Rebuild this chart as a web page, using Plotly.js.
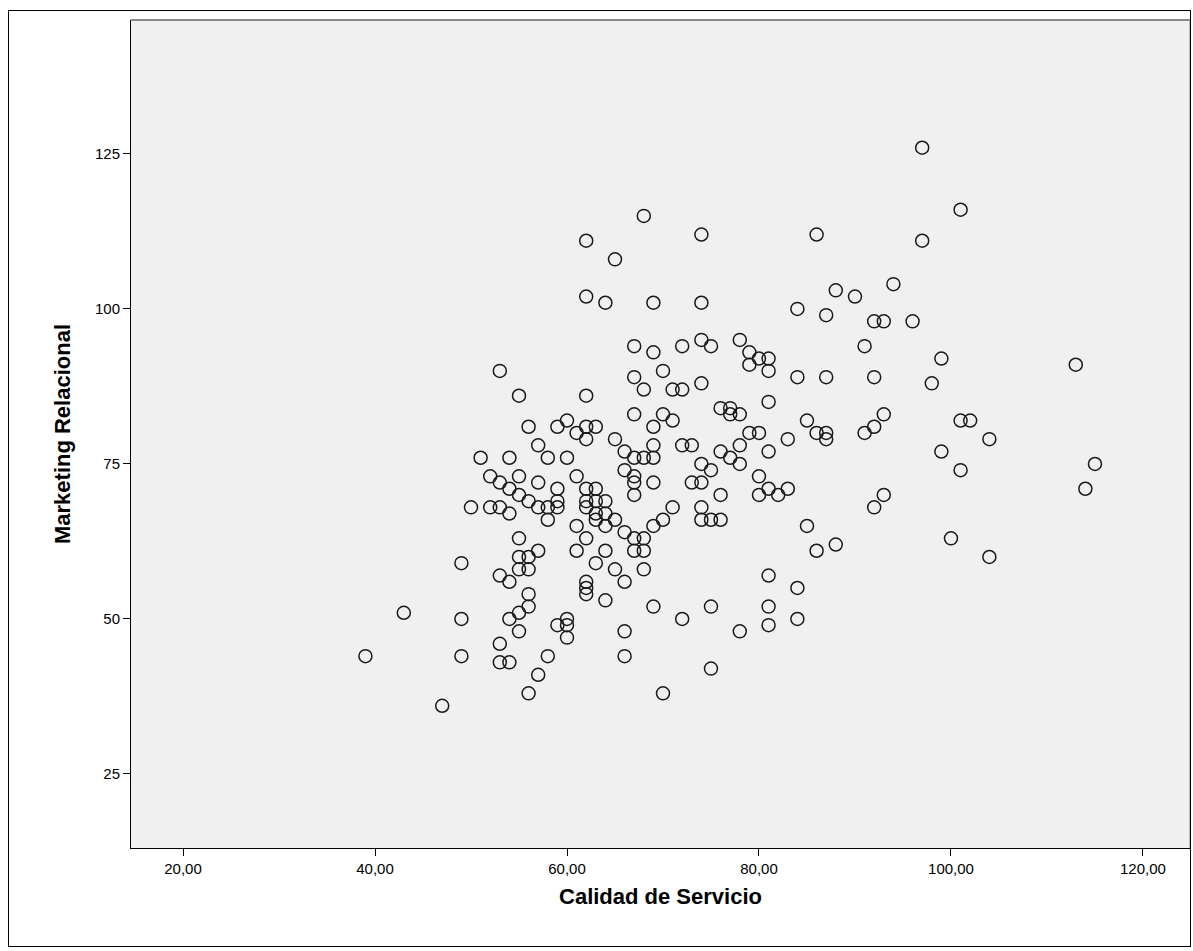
<!DOCTYPE html>
<html>
<head>
<meta charset="utf-8">
<script src="https://cdn.plot.ly/plotly-3.0.1.min.js"></script>
<style>
  html, body { margin: 0; padding: 0; background: #ffffff; }
  #chart { width: 1193px; height: 951px; position: relative; }
  #frame { position: absolute; left: 8px; top: 10px; width: 1183px; height: 937px; border: 1px solid #000; pointer-events: none; box-sizing: border-box; }
</style>
</head>
<body>
<div id="chart"></div>
<div id="frame"></div>
<script>
// Calidad de Servicio (x) and Marketing Relacional (y)
const calidadServicio = [
  39,43,47,49,49,49,50,51,
  52,52,
  53,53,53,53,53,53,
  54,54,54,54,54,54,
  55,55,55,55,55,55,55,55,
  56,56,56,56,56,56,56,
  57,57,57,57,57,
  58,58,58,58,
  59,59,59,59,59,
  60,60,60,60,60,
  61,61,61,61,
  62,62,62,62,62,62,62,62,62,62,62,62,
  63,63,63,63,63,63,
  64,64,64,64,64,64,
  65,65,65,65,
  66,66,66,66,66,66,
  67,67,67,67,67,67,67,67,67,
  68,68,68,68,68,68,
  69,69,69,69,69,69,69,69,
  70,70,70,70,
  71,71,71,
  72,72,72,72,
  73,73,
  74,74,74,74,74,74,74,74,
  75,75,75,75,75,
  76,76,76,76,
  77,77,77,
  78,78,78,78,78,
  79,79,79,
  80,80,80,80,
  81,81,81,81,81,81,81,81,
  82,
  83,83,
  84,84,84,84,
  85,85,
  86,86,86,
  87,87,87,87,
  88,88,
  90,
  91,91,
  92,92,92,92,
  93,93,93,
  94,
  96,
  97,97,
  98,
  99,99,
  100,
  101,101,101,
  102,
  104,104,
  113,114,115
];
const marketingRelacional = [
  44,51,36,59,50,44,68,76,
  73,68,
  90,72,68,57,46,43,
  76,71,67,56,50,43,
  86,73,70,63,60,58,51,48,
  81,69,60,58,54,52,38,
  78,72,68,61,41,
  76,68,66,44,
  81,71,69,68,49,
  82,76,50,49,47,
  80,73,65,61,
  111,102,86,81,79,71,69,68,63,56,55,54,
  81,71,69,67,66,59,
  101,69,67,65,61,53,
  108,79,66,58,
  77,74,64,56,48,44,
  94,89,83,76,73,72,70,63,61,
  115,87,76,63,61,58,
  101,93,81,78,76,72,65,52,
  90,83,66,38,
  87,82,68,
  94,87,78,50,
  78,72,
  112,101,95,88,75,72,68,66,
  94,74,66,52,42,
  84,77,70,66,
  84,83,76,
  95,83,78,75,48,
  93,91,80,
  92,80,73,70,
  92,90,85,77,71,57,52,49,
  70,
  79,71,
  100,89,55,50,
  82,65,
  112,80,61,
  99,89,80,79,
  103,62,
  102,
  94,80,
  98,89,81,68,
  98,83,70,
  104,
  98,
  126,111,
  88,
  92,77,
  63,
  116,82,74,
  82,
  79,60,
  91,71,75
];
const xTickValues = [20, 40, 60, 80, 100, 120];
const xTickLabels = ["20,00", "40,00", "60,00", "80,00", "100,00", "120,00"];
const yTickValues = [25, 50, 75, 100, 125];
const yTickLabels = ["25", "50", "75", "100", "125"];

const trace = {
  x: calidadServicio,
  y: marketingRelacional,
  type: 'scatter',
  mode: 'markers',
  marker: {
    symbol: 'circle-open',
    size: 13,
    color: '#1a1a1a',
    line: { width: 1.5, color: '#1a1a1a' }
  },
  hoverinfo: 'x+y'
};

const fontFam = '"Liberation Sans", Arial, sans-serif';
const layout = {
  width: 1193,
  height: 951,
  margin: { l: 131, r: 3, t: 20, b: 103 },
  paper_bgcolor: 'rgba(0,0,0,0)',
  plot_bgcolor: '#f0f0f0',
  showlegend: false,
  font: { family: fontFam, size: 15, color: '#000' },
  xaxis: {
    range: [14.58, 124.9],
    tickmode: 'array',
    tickvals: xTickValues,
    ticktext: xTickLabels,
    ticks: 'outside',
    ticklen: 7,
    tickwidth: 1,
    tickcolor: '#000',
    showgrid: false,
    zeroline: false,
    showline: true,
    linecolor: '#000',
    linewidth: 1,
    tickfont: { family: fontFam, size: 15, color: '#000' },
    title: { text: 'Calidad de Servicio', font: { family: fontFam, size: 22, color: '#000', weight: 'bold' }, standoff: 12 }
  },
  yaxis: {
    range: [13.06, 146.6],
    tickmode: 'array',
    tickvals: yTickValues,
    ticktext: yTickLabels,
    ticks: 'outside',
    ticklen: 7,
    tickwidth: 1,
    tickcolor: '#000',
    showgrid: false,
    zeroline: false,
    showline: true,
    linecolor: '#000',
    linewidth: 1,
    tickfont: { family: fontFam, size: 15, color: '#000' },
    title: { text: 'Marketing Relacional', font: { family: fontFam, size: 22, color: '#000', weight: 'bold' }, standoff: 18 }
  },
  shapes: [
    { type: 'line', xref: 'paper', yref: 'paper', x0: 0, x1: 1, y0: 1, y1: 1, line: { color: '#8a8a8a', width: 2 } },
    { type: 'line', xref: 'paper', yref: 'paper', x0: 1, x1: 1, y0: 0, y1: 1, line: { color: '#8a8a8a', width: 1 } }
  ]
};

Plotly.newPlot('chart', [trace], layout, { displayModeBar: false, staticPlot: true });
</script>
</body>
</html>
